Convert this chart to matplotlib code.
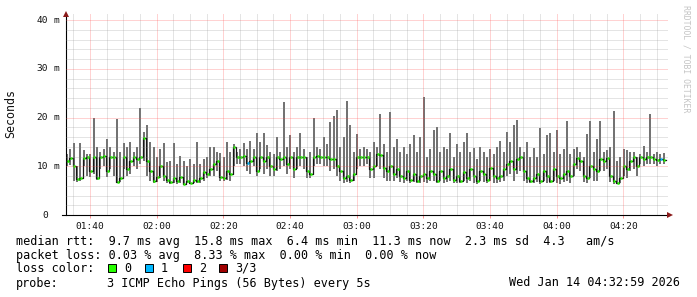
import numpy as np
import matplotlib
matplotlib.use("Agg")
import matplotlib.pyplot as plt
from matplotlib.patches import Rectangle

# ---------------- data (one value per minute, starting 01:32:48) ----------------
start_offset_min = 7.2          # minutes between first sample and 01:40
xtick_labels = ["01:40", "02:00", "02:20", "02:40", "03:00", "03:20", "03:40", "04:00", "04:20"]
ytick_values = [0, 10, 20, 30, 40]
ytick_numbers = ["0", "10", "20", "30", "40"]

median_ms = [
    11.0, 11.6, 10.0, 7.3, 7.5, 11.6, 11.8, 9.0, 11.9, 7.6,
    12.0, 12.1, 9.0, 12.0, 11.9, 6.8, 7.5, 12.0, 9.5, 11.0,
    11.8, 11.5, 12.0, 15.8, 11.0, 9.0, 7.0, 7.8, 10.0, 8.0,
    7.2, 6.8, 7.5, 6.9, 7.8, 6.4, 7.0, 6.6, 7.2, 6.9,
    7.5, 8.8, 8.5, 9.5, 10.5, 11.0, 7.8, 7.6, 9.0, 8.5,
    14.0, 12.0, 12.0, 12.1, 10.7, 11.0, 12.0, 9.0, 12.0, 11.0,
    12.0, 10.0, 9.5, 12.0, 11.5, 12.0, 10.5, 11.8, 9.5, 12.0,
    12.0, 11.8, 9.0, 8.5, 12.0, 12.2, 12.0, 11.8, 12.0, 11.5,
    11.5, 10.0, 9.0, 7.5, 8.0, 7.2, 8.5, 11.8, 12.0, 11.9,
    12.0, 9.5, 10.0, 12.5, 12.3, 9.6, 9.0, 10.0, 8.5, 9.5,
    8.0, 7.5, 9.0, 7.2, 8.5, 7.0, 8.0, 8.5, 7.5, 9.0,
    8.5, 7.0, 9.0, 7.5, 8.0, 9.5, 7.2, 8.0, 7.0, 8.8,
    7.5, 9.5, 8.0, 7.0, 9.0, 8.5, 7.2, 9.6, 8.0, 7.5,
    8.0, 9.5, 10.5, 11.0, 9.5, 11.5, 12.0, 9.0, 7.5, 7.0,
    7.5, 8.5, 7.0, 9.0, 8.0, 7.0, 9.5, 8.0, 7.5, 8.5,
    9.0, 8.0, 10.5, 11.7, 11.0, 8.0, 7.5, 10.0, 9.5, 9.0,
    11.5, 11.0, 11.6, 8.0, 7.0, 6.6, 7.5, 10.0, 9.5, 11.0,
    12.0, 10.0, 11.8, 11.5, 12.0, 11.8, 11.5, 11.3, 11.5, 11.3,
]

max_ms = [
    12.5, 13.5, 14.7, 10.0, 14.7, 13.3, 12.5, 12.5, 19.9, 14.0,
    13.0, 13.5, 15.5, 14.0, 13.0, 19.7, 13.0, 14.7, 14.0, 15.0,
    13.0, 14.0, 22.0, 17.0, 18.5, 15.0, 14.0, 12.0, 13.5, 14.7,
    10.8, 11.0, 14.7, 10.5, 12.1, 11.0, 10.0, 11.5, 10.5, 15.0,
    10.5, 11.5, 12.0, 14.0, 14.0, 13.0, 12.7, 12.0, 15.0, 13.0,
    14.5, 13.0, 13.5, 14.7, 13.5, 15.2, 13.5, 16.8, 15.0, 16.8,
    14.4, 13.0, 12.5, 16.0, 13.0, 23.2, 14.0, 16.5, 13.0, 14.0,
    16.8, 13.5, 12.0, 13.0, 19.9, 14.0, 13.5, 16.0, 14.5, 19.0,
    20.3, 21.5, 14.0, 16.0, 23.3, 18.5, 13.0, 16.6, 13.5, 14.0,
    13.5, 13.0, 15.0, 14.0, 20.8, 14.5, 13.0, 21.2, 14.0, 15.5,
    13.0, 14.0, 12.5, 14.5, 16.4, 13.0, 16.0, 24.2, 12.0, 13.5,
    17.4, 18.0, 13.0, 14.0, 13.5, 16.8, 12.0, 14.5, 13.0, 15.0,
    16.8, 13.0, 13.7, 11.5, 14.0, 13.0, 12.0, 13.5, 12.5, 14.0,
    15.1, 13.0, 17.0, 15.0, 18.5, 19.5, 14.0, 13.0, 15.0, 12.0,
    13.7, 12.0, 17.8, 12.5, 16.4, 16.8, 13.0, 17.4, 12.5, 13.5,
    19.3, 12.5, 13.5, 14.0, 13.0, 12.0, 16.6, 19.3, 13.0, 15.5,
    19.3, 13.0, 13.3, 14.0, 21.3, 11.0, 12.0, 13.5, 13.3, 13.0,
    13.0, 12.0, 12.5, 14.2, 13.0, 20.7, 12.5, 13.0, 12.5, 12.8,
]

min_ms = [
    10.0, 10.2, 7.0, 6.8, 7.0, 10.0, 8.0, 7.8, 8.5, 7.2,
    9.5, 10.0, 7.8, 9.5, 8.0, 6.5, 6.8, 9.5, 8.0, 8.5,
    10.0, 9.5, 10.5, 11.0, 8.0, 7.0, 6.5, 6.8, 7.5, 7.0,
    6.5, 6.4, 6.5, 6.4, 6.6, 6.4, 6.5, 6.4, 6.5, 6.5,
    6.6, 7.0, 7.5, 8.0, 8.0, 9.0, 7.0, 7.0, 7.2, 7.0,
    10.0, 10.5, 10.5, 10.0, 9.0, 8.5, 10.0, 8.0, 9.5, 8.5,
    9.5, 8.0, 8.0, 9.0, 9.5, 10.0, 8.5, 9.5, 7.5, 9.5,
    10.0, 9.5, 7.5, 7.5, 10.0, 10.5, 10.5, 10.0, 10.0, 9.0,
    9.5, 8.0, 7.0, 6.6, 6.8, 6.6, 7.0, 9.5, 10.0, 10.0,
    10.5, 7.5, 7.5, 10.0, 9.5, 7.5, 7.0, 7.0, 7.0, 7.5,
    6.8, 6.6, 7.0, 6.6, 6.8, 6.5, 6.6, 6.8, 6.5, 7.0,
    7.0, 6.5, 7.0, 6.6, 6.8, 7.0, 6.5, 6.6, 6.5, 7.0,
    6.5, 7.0, 6.6, 6.4, 7.0, 6.8, 6.5, 7.0, 6.6, 6.5,
    6.8, 7.0, 8.0, 8.5, 7.0, 8.5, 9.0, 7.0, 6.5, 6.5,
    6.5, 6.8, 6.4, 7.0, 6.6, 6.5, 7.0, 6.6, 6.4, 6.8,
    7.0, 6.6, 8.0, 9.5, 9.0, 6.8, 6.5, 7.5, 7.0, 7.0,
    9.0, 9.0, 9.5, 6.8, 6.4, 6.4, 6.5, 8.0, 7.5, 9.0,
    9.5, 8.0, 10.5, 10.0, 10.5, 10.5, 10.5, 10.0, 10.5, 10.5,
]

loss_one_of_three_idx = [54, 178]   # samples with 1/3 packets lost

legend_loss_labels = ["0", "1", "2", "3/3"]
legend_loss_colors = ["#26ff00", "#00b8ff", "#ff0000", "#a00000"]

line_rtt = "median rtt:  9.7 ms avg  15.8 ms max  6.4 ms min  11.3 ms now  2.3 ms sd  4.3   am/s"
line_loss = "packet loss: 0.03 % avg  8.33 % max  0.00 % min  0.00 % now"
line_probe_a = "probe:"
line_probe_b = "3 ICMP Echo Pings (56 Bytes) every 5s"
line_date = "Wed Jan 14 04:32:59 2026"

# ---------------- figure ----------------
W, H = 697, 297
fig = plt.figure(figsize=(W / 100, H / 100), dpi=100)
fig.patch.set_facecolor("white")

ax_l, ax_r, ax_b, ax_t = 66, 668, 215, 14
ax = fig.add_axes([ax_l / W, 1 - ax_b / H, (ax_r - ax_l) / W, (ax_b - ax_t) / H])
ax.set_facecolor("white")

n = len(median_ms)
t = np.arange(n)
med = np.array(median_ms)
hi = np.array(max_ms)
lo = np.array(min_ms)

px_per_min = 600 / 180.0
ax.set_xlim(0, (ax_r - ax_l) / px_per_min)
ax.set_ylim(0, (ax_b - ax_t) / 4.875)

# smoke
ax.bar(t, hi - lo, bottom=lo, width=0.6, align="edge", color="#737373", linewidth=0, zorder=2)
# median line (dark) and loss-colored median marks
edges = np.arange(n + 1)
ax.step(edges, np.append(med, med[-1]), where="post", color="#151515", lw=0.9, zorder=3)
cols = [legend_loss_colors[0]] * n
for i in loss_one_of_three_idx:
    cols[i] = legend_loss_colors[1]
ax.hlines(med, t + 0.2, t + 0.75, colors=cols, lw=1.8, zorder=4)

# grid (dotted, drawn over data like rrdtool)
minor_col = (0.55, 0.55, 0.55, 0.45)
major_col = (1.0, 0.31, 0.31, 0.5)
dash = (0, (1, 1))
xmaj = [start_offset_min + 20 * k for k in range(len(xtick_labels))]
xmin_ = [start_offset_min - 5 + 5 * k for k in range(0, 38)]
gkw = dict(lw=0.72, ls=dash, zorder=5)
for xv in xmin_:
    if 0 < xv < ax.get_xlim()[1] and all(abs(xv - m) > 1e-6 for m in xmaj):
        ax.axvline(xv, color=minor_col, **gkw)
for yv in range(2, 41, 2):
    if yv % 10:
        ax.axhline(yv, color=minor_col, **gkw)
for xv in xmaj:
    ax.axvline(xv, color=major_col, **gkw)
for yv in ytick_values[1:]:
    ax.axhline(yv, color=major_col, **gkw)

# axes lines
for s in ["top", "right", "bottom"]:
    ax.spines[s].set_visible(False)
ax.spines["left"].set_color("#000000")
ax.spines["left"].set_linewidth(0.8)
ax.plot([-4 / (ax_r - ax_l), 1.0], [0, 0], transform=ax.transAxes, color="black",
        lw=0.8, clip_on=False, zorder=6)
ax.plot([0], [1.0], marker="^", ms=5, color="#8b1a1a", transform=ax.transAxes,
        clip_on=False, zorder=7, markeredgewidth=0)
ax.plot([1.0 + 2 / (ax_r - ax_l)], [0], marker=">", ms=5, color="#8b1a1a",
        transform=ax.transAxes, clip_on=False, zorder=7, markeredgewidth=0)

mono = "DejaVu Sans Mono"
ax.set_xticks(xmaj)
ax.set_xticklabels(xtick_labels, fontfamily=mono, fontsize=6.8, color="#111111")
ax.tick_params(axis="x", length=2, width=0.72, color=(1.0, 0.31, 0.31, 0.6), pad=3, direction="out")
ax.set_yticks([])

# y labels
ytr = ax.get_yaxis_transform()
for v, s in zip(ytick_values, ytick_numbers):
    ax.text(-(ax_l - 48) / (ax_r - ax_l), v, s, transform=ytr, ha="right", va="center",
            fontfamily=mono, fontsize=6.8, color="#111111")
    if v != 0:
        ax.text(-(ax_l - 53) / (ax_r - ax_l), v, "m", transform=ytr, ha="left", va="center",
                fontfamily=mono, fontsize=6.8, color="#111111")

fig.text(11 / W, 1 - 114 / H, "Seconds", rotation=90, ha="center", va="center",
         fontfamily=mono, fontsize=8.4, color="#111111")
fig.text(686 / W, 1 - 5 / H, "RRDTOOL / TOBI OETIKER", rotation=270, ha="center", va="top",
         fontfamily=mono, fontsize=5.9, color="#c4c4c4")

# legend block
fs = 8.5
def ftxt(x, y, s, **kw):
    fig.text(x / W, 1 - y / H, s, ha=kw.pop("ha", "left"), va="center",
             fontfamily=mono, fontsize=fs, color="#000000", **kw)

ftxt(16, 241, line_rtt)
ftxt(16, 255, line_loss)
ftxt(16, 268, "loss color:")
box_x = [108, 145, 183, 219]
for bx, lab, c in zip(box_x, legend_loss_labels, legend_loss_colors):
    fig.patches.append(Rectangle((bx / W, 1 - 272 / H), 8 / W, 8 / H, transform=fig.transFigure,
                                 facecolor=c, edgecolor="black", linewidth=0.7))
    ftxt(bx + 16, 268, lab)
ftxt(16, 283, line_probe_a)
ftxt(107, 283, line_probe_b)
ftxt(680, 283, line_date, ha="right")

fig.savefig("out.png", dpi=100)
